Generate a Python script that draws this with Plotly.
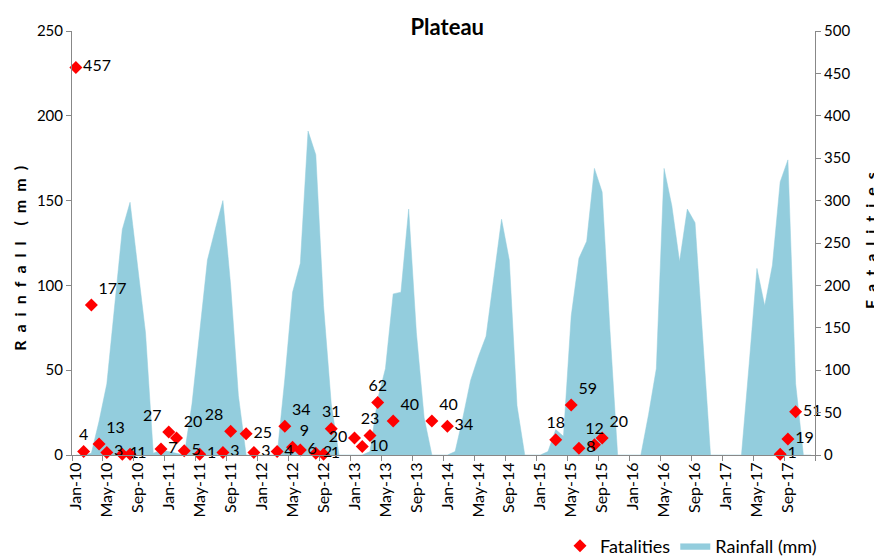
import plotly.graph_objects as go

# ---------------- data ----------------
years = ["10", "11", "12", "13", "14", "15", "16", "17"]
month_names = ["Jan", "Feb", "Mar", "Apr", "May", "Jun", "Jul", "Aug", "Sep", "Oct", "Nov", "Dec"]
months = [f"{m}-{y}" for y in years for m in month_names]

rain_2010 = [0, 0, 1, 20, 42, 88, 133, 149, 110, 72, 1, 3]
rain_2011 = [2, 1, 0, 30, 72, 115, 133, 150, 100, 35, 0, 0]
rain_2012 = [0, 0, 0, 45, 96, 113, 191, 177, 88, 30, 0, 0]
rain_2013 = [0, 0, 2, 33, 51, 95, 96, 145, 72, 22, 0, 0]
rain_2014 = [0, 2, 22, 44, 58, 70, 103, 139, 115, 29, 0, 0]
rain_2015 = [0, 2, 15, 11, 82, 116, 126, 169, 155, 74, 0, 0]
rain_2016 = [0, 0, 24, 51, 169, 147, 114, 145, 137, 70, 0, 0]
rain_2017 = [0, 0, 0, 54, 110, 88, 112, 161, 174, 42, 0, 0]
rainfall = (rain_2010 + rain_2011 + rain_2012 + rain_2013 +
            rain_2014 + rain_2015 + rain_2016 + rain_2017)

fatal_months = ["Jan-10", "Feb-10", "Mar-10", "Apr-10", "May-10", "Jul-10", "Aug-10",
                "Dec-10", "Jan-11", "Feb-11", "Mar-11", "May-11", "Aug-11", "Sep-11",
                "Nov-11", "Dec-11", "Mar-12", "Apr-12", "May-12", "Jun-12", "Aug-12",
                "Sep-12", "Oct-12", "Jan-13", "Feb-13", "Mar-13", "Apr-13", "Jun-13",
                "Nov-13", "Jan-14", "Mar-15", "May-15", "Jun-15", "Aug-15", "Sep-15",
                "Aug-17", "Sep-17", "Oct-17"]
fatal_values = [457, 4, 177, 13, 3, 1, 1,
                7, 27, 20, 5, 1, 3, 28,
                25, 3, 4, 34, 9, 6, 2,
                1, 31, 20, 10, 23, 62, 40,
                40, 34, 18, 59, 8, 12, 20,
                1, 19, 51]
label_pos = ["middle right", "top center", "top right", "top right", "middle right", "middle right", "middle right",
             "middle right", "top left", "top right", "middle right", "middle right", "middle right", "top left",
             "middle right", "middle right", "middle right", "top right", "top right", "middle right", "middle right",
             "middle right", "top center", "middle left", "middle right", "top center", "top center", "top right",
             "top right", "middle right", "top center", "top right", "middle right", "top center", "top right",
             "middle right", "middle right", "middle right"]

tick_labels = months[::4]

# ---------------- figure ----------------
x_rain = list(range(len(months)))
x_fatal = [months.index(m) for m in fatal_months]
tick_positions = [months.index(t) for t in tick_labels]

FONT = "Lato"
# the page body adds an 8px offset, so the figure is 8px smaller in both directions
W, H = 874, 549

fig = go.Figure()
fig.add_trace(go.Scatter(
    x=x_rain, y=rainfall, name="Rainfall (mm)", mode="lines",
    fill="tozeroy", fillcolor="#93CDDD", line=dict(color="#93CDDD", width=0.5),
    legendrank=2, yaxis="y"))
fig.add_trace(go.Scatter(
    x=x_fatal, y=fatal_values, name="Fatalities", mode="markers+text",
    marker=dict(symbol="diamond", color="#FF0000", size=10),
    text=[str(v) for v in fatal_values], textposition=label_pos,
    textfont=dict(family=FONT, size=16, color="#000000"),
    cliponaxis=False, legendrank=1, yaxis="y2"))

axis_col = "#888888"
fig.update_layout(
    width=W, height=H,
    margin=dict(l=64, r=67, t=23, b=102, autoexpand=False),
    plot_bgcolor="white", paper_bgcolor="white",
    font=dict(family=FONT, size=14, color="#000000"),
    title=dict(text="<b>Plateau</b>", x=0.505, xref="paper", y=1 - 19 / H,
               yref="container", xanchor="center", yanchor="middle",
               font=dict(family=FONT, size=22, color="#000000")),
    xaxis=dict(range=[-0.5, len(months) - 0.5], tickmode="array",
               tickvals=tick_positions, ticktext=tick_labels, tickangle=-90,
               ticks="", showline=True, linecolor=axis_col, linewidth=1,
               showgrid=False, zeroline=False, tickfont=dict(size=16),
               automargin=False,
               minor=dict(tickmode="array",
                          tickvals=[p - 0.5 for p in tick_positions] + [len(months) - 0.5],
                          ticks="outside", ticklen=5, tickcolor=axis_col, showgrid=False)),
    yaxis=dict(range=[0, 250], dtick=50, ticks="outside", ticklen=5, tickcolor=axis_col,
               showline=True, linecolor=axis_col, linewidth=1, showgrid=False,
               zeroline=False, tickfont=dict(size=15), automargin=False),
    yaxis2=dict(range=[0, 500], dtick=50, overlaying="y", side="right", ticks="outside",
                ticklen=5, tickcolor=axis_col, showline=True, linecolor=axis_col,
                linewidth=1, showgrid=False, zeroline=False, tickfont=dict(size=15),
                automargin=False),
    legend=dict(orientation="h", xref="container", yref="container",
                x=814 / W, xanchor="right", y=1 - 538 / H, yanchor="middle",
                font=dict(family=FONT, size=18), bgcolor="rgba(0,0,0,0)",
                itemwidth=30),
    showlegend=True,
)

sp = "\u2002"
fig.add_annotation(text="<b>" + sp.join(list("Rainfall")) + sp + sp + sp.join(list("(mm)")) + "</b>",
                   xref="paper", yref="paper", x=-0.07, y=0.465, textangle=-90,
                   showarrow=False, xanchor="center", yanchor="middle",
                   font=dict(family=FONT, size=16, color="#000000"))
fig.add_annotation(text="<b>" + sp.join(list("Fatalities")) + "</b>",
                   xref="paper", yref="paper", x=1.0755, y=0.505, textangle=-90,
                   showarrow=False, xanchor="center", yanchor="middle",
                   font=dict(family=FONT, size=16, color="#000000"))

fig.write_html("out.html")
